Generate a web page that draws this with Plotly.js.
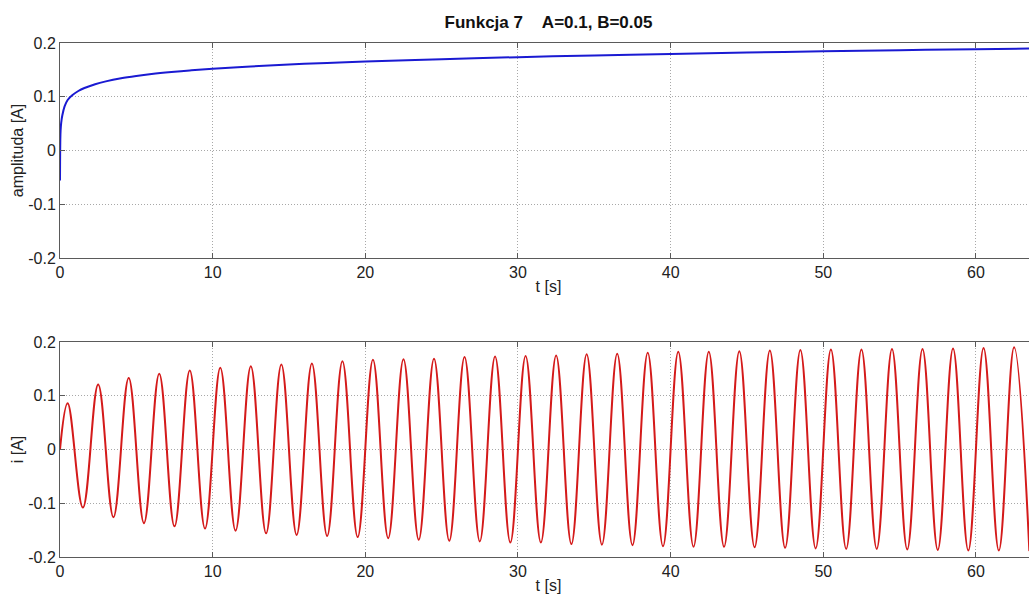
<!DOCTYPE html>
<html>
<head>
<meta charset="utf-8">
<script src="https://cdn.plot.ly/plotly-3.0.1.min.js"></script>
<style>
  html, body { margin: 0; padding: 0; background: #ffffff; overflow: hidden; }
  #chart { width: 1037px; height: 597px; }
</style>
</head>
<body>
<div id="chart"></div>
<script>
// ---- Data ----
const chartTitle = 'Funkcja 7\u00a0\u00a0\u00a0\u00a0A=0.1, B=0.05';

// Top panel: amplitude envelope [A] vs time [s]
const ampTime  = [0, 0.005, 0.02, 0.04, 0.08, 0.15, 0.3, 0.5, 0.8, 1.2, 1.6, 2.3, 3, 4, 5, 6, 7.3, 8.5, 10, 12.5, 15, 17.5, 20, 25, 30, 35, 40, 45, 50, 55, 60, 64];
const ampValue = [-0.056, -0.02, 0.02, 0.038, 0.052, 0.065, 0.082, 0.094, 0.1027, 0.1107, 0.1163, 0.1234, 0.1286, 0.1343, 0.1386, 0.1422, 0.146, 0.149, 0.152, 0.1564, 0.160, 0.163, 0.1657, 0.170, 0.1737, 0.1768, 0.1796, 0.1822, 0.1845, 0.1866, 0.1885, 0.1900];

// Bottom panel: current i [A] — start point, maxima and minima
const startTime   = [0];
const startValue  = [0.0];
const peakTimes   = [0.5, 2.5, 4.5, 6.5, 8.5, 10.5, 12.5, 14.5, 16.5, 18.5, 20.5, 22.5, 24.5, 26.5, 28.5, 30.5,
                     32.5, 34.5, 36.5, 38.5, 40.5, 42.5, 44.5, 46.5, 48.5, 50.5, 52.5, 54.5, 56.5, 58.5, 60.5, 62.5];
const peakValues  = [0.086, 0.121, 0.133, 0.141, 0.147, 0.152, 0.155, 0.158, 0.160, 0.164, 0.167, 0.168, 0.169, 0.172, 0.173, 0.174,
                     0.175, 0.177, 0.178, 0.180, 0.182, 0.182, 0.183, 0.184, 0.185, 0.186, 0.186, 0.187, 0.187, 0.188, 0.189, 0.190];
const troughTimes = [1.5, 3.5, 5.5, 7.5, 9.5, 11.5, 13.5, 15.5, 17.5, 19.5, 21.5, 23.5, 25.5, 27.5, 29.5, 31.5,
                     33.5, 35.5, 37.5, 39.5, 41.5, 43.5, 45.5, 47.5, 49.5, 51.5, 53.5, 55.5, 57.5, 59.5, 61.5, 63.5];
const troughValues= [-0.108, -0.126, -0.137, -0.143, -0.147, -0.151, -0.156, -0.159, -0.161, -0.163, -0.165, -0.168, -0.170, -0.171, -0.173, -0.173,
                     -0.176, -0.177, -0.178, -0.180, -0.181, -0.181, -0.182, -0.183, -0.184, -0.185, -0.185, -0.186, -0.187, -0.188, -0.188, -0.189];

// Tick labels
const xTickVals = [0, 10, 20, 30, 40, 50, 60];
const xTickText = ['0', '10', '20', '30', '40', '50', '60'];
const yTickVals = [-0.2, -0.1, 0, 0.1, 0.2];
const yTickText = ['-0.2', '-0.1', '0', '0.1', '0.2'];

// ---- Build the current series from the read points ----
const pts = [];
startTime.forEach((t, k) => pts.push([t, startValue[k]]));
peakTimes.forEach((t, k) => pts.push([t, peakValues[k]]));
troughTimes.forEach((t, k) => pts.push([t, troughValues[k]]));
pts.sort((a, b) => a[0] - b[0]);
const curT = pts.map(p => p[0]);
const curV = pts.map(p => p[1]);

const fontFam = '"Liberation Sans", Arial, Helvetica, sans-serif';
const axisColor = '#5a5a5a';
const gridColor = '#a8a8a8';

function xAxis(anchor) {
  return {
    anchor: anchor, domain: [0, 1], range: [0, 64],
    tickvals: xTickVals, ticktext: xTickText,
    ticks: 'inside', ticklen: 5, tickcolor: axisColor, tickwidth: 1,
    showline: true, mirror: 'ticks', linecolor: axisColor, linewidth: 1,
    showgrid: true, gridcolor: gridColor, griddash: '1px,2px', gridwidth: 1,
    zeroline: false,
    tickfont: { family: fontFam, size: 16, color: '#222' },
    title: { text: 't [s]', font: { family: fontFam, size: 16, color: '#222' }, standoff: 0 }
  };
}
function yAxis(anchor, domain, label) {
  return {
    anchor: anchor, domain: domain, range: [-0.2, 0.2],
    tickvals: yTickVals, ticktext: yTickText,
    ticks: 'inside', ticklen: 5, tickcolor: axisColor, tickwidth: 1,
    showline: true, mirror: 'ticks', linecolor: axisColor, linewidth: 1,
    showgrid: true, gridcolor: gridColor, griddash: '1px,2px', gridwidth: 1,
    zeroline: false,
    tickfont: { family: fontFam, size: 16, color: '#222' },
    title: { text: label, font: { family: fontFam, size: 16, color: '#222' }, standoff: 0 }
  };
}

const data = [
  {
    x: ampTime, y: ampValue, xaxis: 'x', yaxis: 'y',
    type: 'scatter', mode: 'lines',
    line: { color: '#1a1ad2', width: 2, shape: 'spline', smoothing: 1 },
    hoverinfo: 'skip', showlegend: false
  },
  {
    x: curT, y: curV, xaxis: 'x2', yaxis: 'y2',
    type: 'scatter', mode: 'lines',
    line: { color: '#d41a1a', width: 2, shape: 'spline', smoothing: 1.1 },
    hoverinfo: 'skip', showlegend: false
  }
];

const layout = {
  width: 1037, height: 597,
  margin: { l: 60, r: 0, t: 43, b: 40 },
  paper_bgcolor: '#ffffff', plot_bgcolor: '#ffffff',
  font: { family: fontFam, size: 16, color: '#222' },
  title: {
    text: '<b>' + chartTitle + '</b>',
    font: { family: fontFam, size: 17, color: '#111' },
    x: 0.5, xref: 'paper', xanchor: 'center',
    y: 1 - 22 / 597, yref: 'container', yanchor: 'middle'
  },
  xaxis: xAxis('y'),
  yaxis: yAxis('x', [0.5817, 1], 'amplituda [A]'),
  xaxis2: xAxis('y2'),
  yaxis2: yAxis('x2', [0, 0.4183], 'i [A]'),
  showlegend: false
};

Plotly.newPlot('chart', data, layout, { displayModeBar: false, staticPlot: true });
</script>
</body>
</html>
